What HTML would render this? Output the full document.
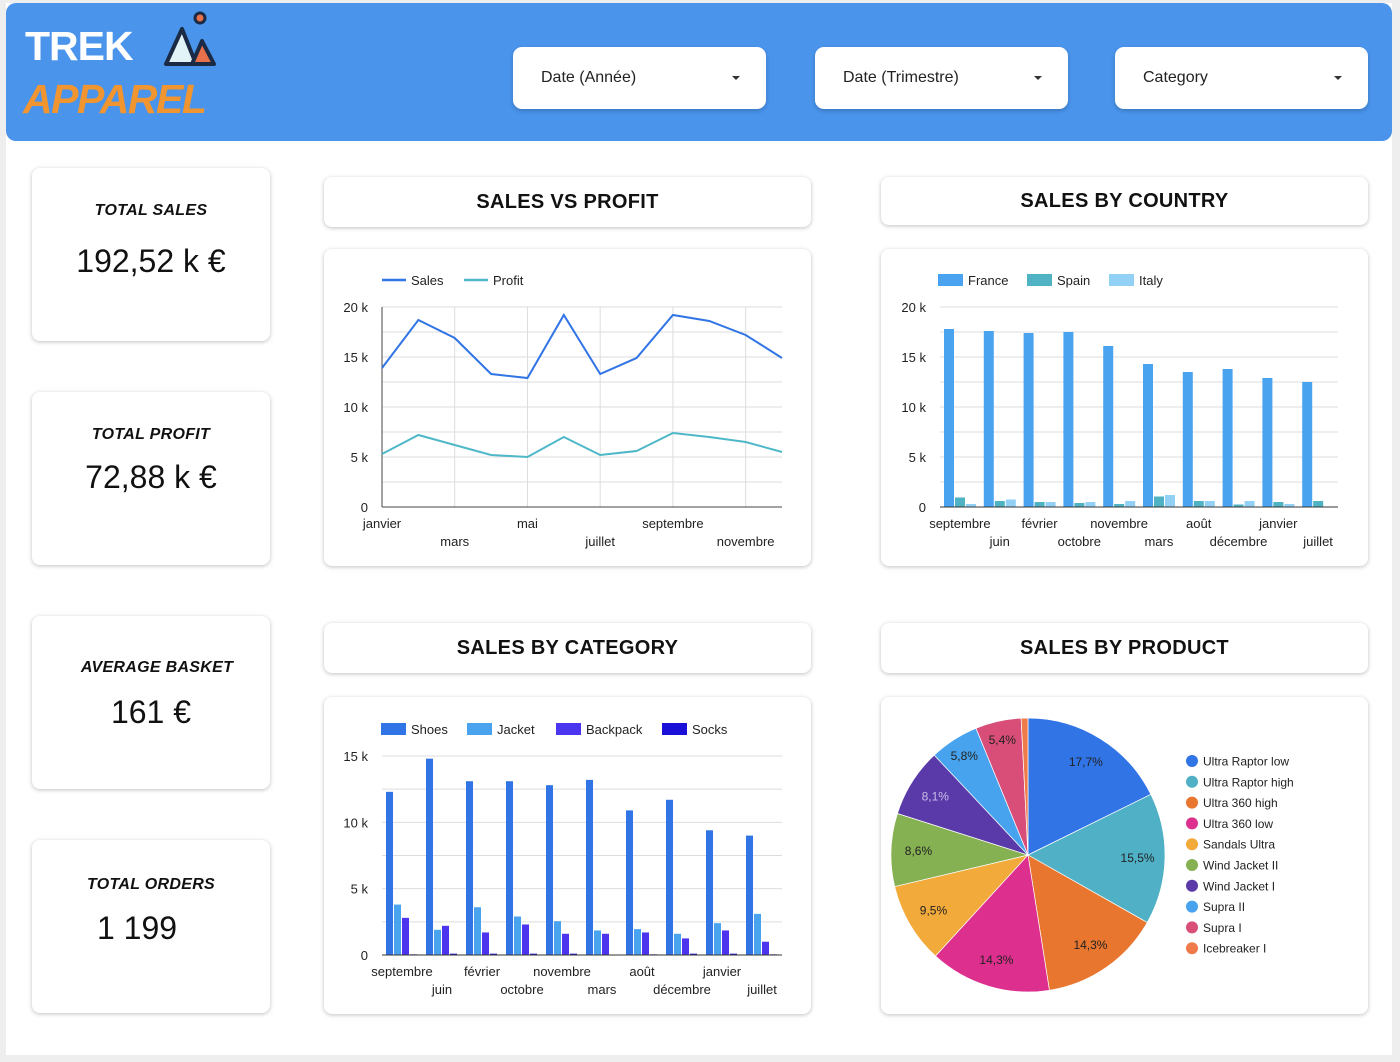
<!DOCTYPE html>
<html><head><meta charset="utf-8">
<style>
body{margin:0;width:1400px;height:1062px;background:#eeeeee;font-family:"Liberation Sans",sans-serif;position:relative;overflow:hidden}
#page{position:absolute;left:6px;top:3px;width:1386px;height:1052px;background:#fff}
#header{position:absolute;left:6px;top:3px;width:1386px;height:138px;background:#4a94ec;border-radius:10px}
.logo1{position:absolute;left:19px;top:20px;font-size:41px;font-weight:bold;color:#fff;letter-spacing:-1px}
.logo2{position:absolute;left:17px;top:73px;font-size:41px;font-weight:bold;font-style:italic;color:#f0952f;letter-spacing:-1.5px}
.dd{position:absolute;top:44px;width:253px;height:62px;background:#fff;border-radius:9px;box-shadow:0 2px 4px rgba(0,0,0,.2);font-size:16px;color:#222}
.dd span{position:absolute;left:28px;top:22px}
.dd i{position:absolute;right:26px;top:29px;border-left:4px solid transparent;border-right:4px solid transparent;border-top:4px solid #333}
.card{position:absolute;background:#fff;border-radius:8px;box-shadow:0 1px 4px rgba(0,0,0,.25)}
.kt{position:absolute;width:100%;text-align:center;font-size:16px;font-style:italic;font-weight:bold;color:#111;letter-spacing:.3px}
.kv{position:absolute;width:100%;text-align:center;font-size:32px;color:#111}
.title{font-size:20px;font-weight:bold;text-align:center;line-height:50px;color:#111;letter-spacing:.3px}
#charts{position:absolute;left:0;top:0}
</style></head><body>
<div id="page"></div>
<div id="header">
 <div class="logo1">TREK</div>
 <div class="logo2">APPAREL</div>
 <svg style="position:absolute;left:152px;top:6px" width="62" height="58">
  <circle cx="42" cy="9" r="5" fill="#e8704a" stroke="#1b2b45" stroke-width="3"/>
  <polygon points="24,20 8,55 38,55" fill="#e3f4f8" stroke="#1b2b45" stroke-width="4" stroke-linejoin="round"/>
  <polygon points="44,32 34,55 56,55" fill="#e8704a" stroke="#1b2b45" stroke-width="4" stroke-linejoin="round"/>
 </svg>
 <div class="dd" style="left:507px"><span>Date (Année)</span><i></i></div>
 <div class="dd" style="left:809px"><span>Date (Trimestre)</span><i></i></div>
 <div class="dd" style="left:1109px"><span>Category</span><i></i></div>
</div>

<div class="card" style="left:32px;top:168px;width:238px;height:173px"><div class="kt" style="top:34px">TOTAL SALES</div><div class="kv" style="top:75px">192,52 k €</div></div>
<div class="card" style="left:32px;top:392px;width:238px;height:173px"><div class="kt" style="top:34px">TOTAL PROFIT</div><div class="kv" style="top:67px">72,88 k €</div></div>
<div class="card" style="left:32px;top:616px;width:238px;height:173px"><div class="kt" style="top:43px;left:6px">AVERAGE BASKET</div><div class="kv" style="top:78px">161 €</div></div>
<div class="card" style="left:32px;top:840px;width:238px;height:173px"><div class="kt" style="top:36px">TOTAL ORDERS</div><div class="kv" style="top:70px;left:-14px">1 199</div></div>

<div class="card title" style="left:324px;top:177px;width:487px;height:50px">SALES VS PROFIT</div>
<div class="card title" style="left:881px;top:177px;width:487px;height:48px;line-height:48px">SALES BY COUNTRY</div>
<div class="card title" style="left:324px;top:623px;width:487px;height:50px">SALES BY CATEGORY</div>
<div class="card title" style="left:881px;top:623px;width:487px;height:50px">SALES BY PRODUCT</div>

<div class="card" style="left:324px;top:249px;width:487px;height:317px"></div>
<div class="card" style="left:881px;top:249px;width:487px;height:317px"></div>
<div class="card" style="left:324px;top:697px;width:487px;height:317px"></div>
<div class="card" style="left:881px;top:697px;width:487px;height:317px"></div>

<svg id="charts" width="1400" height="1062" font-family="Liberation Sans, sans-serif"></svg>

<script>
// Line chart data
const months = ["janvier","février","mars","avril","mai","juin","juillet","août","septembre","octobre","novembre","décembre"];
const salesLine = [13.9,18.7,16.9,13.3,12.9,19.2,13.3,14.9,19.2,18.6,17.2,14.9];
const profitLine = [5.3,7.2,6.2,5.2,5.0,7.0,5.2,5.6,7.4,7.0,6.5,5.5];
const lineTicks = [0,5,10,15,20];
// Country chart data
const countryCats = ["septembre","juin","février","octobre","novembre","mars","août","décembre","janvier","juillet"];
const franceVals = [17.8,17.6,17.4,17.5,16.1,14.3,13.5,13.8,12.9,12.5];
const spainVals = [0.95,0.6,0.5,0.4,0.3,1.05,0.6,0.25,0.5,0.6];
const italyVals = [0.3,0.75,0.5,0.5,0.6,1.2,0.6,0.6,0.3,0];
const countryTicks = [0,5,10,15,20];
// Category chart data
const catCats = ["septembre","juin","février","octobre","novembre","mars","août","décembre","janvier","juillet"];
const shoesVals = [12.3,14.8,13.1,13.1,12.8,13.2,10.9,11.7,9.4,9.0];
const jacketVals = [3.8,1.9,3.6,2.9,2.55,1.85,1.95,1.6,2.4,3.1];
const backpackVals = [2.8,2.2,1.7,2.3,1.6,1.6,1.7,1.25,1.85,1.0];
const socksVals = [0.05,0.1,0.1,0.1,0.1,0.02,0.05,0.1,0.1,0.05];
const catTicks = [0,5,10,15];
// Pie data
const products = ["Ultra Raptor low","Ultra Raptor high","Ultra 360 high","Ultra 360 low","Sandals Ultra","Wind Jacket II","Wind Jacket I","Supra II","Supra I","Icebreaker I"];
const productShares = [17.7,15.5,14.3,14.3,9.5,8.6,8.1,5.8,5.4,0.8];
const pieColors = ["#3174e6","#4fb0c6","#e8762f","#dc2f8e","#f2aa3b","#86b152","#5a3aa8","#47a3ee","#d94e78","#ef7b4b"];

const svg = document.getElementById('charts');
const NS = "http://www.w3.org/2000/svg";
function mk(tag, attrs, parent){const e=document.createElementNS(NS,tag);for(const k in attrs)e.setAttribute(k,attrs[k]);(parent||svg).appendChild(e);return e;}
function txt(x,y,s,size,anchor,fill,parent){const t=mk('text',{x:x,y:y,'font-size':size,'text-anchor':anchor||'start',fill:fill||'#222'},parent);t.textContent=s;return t;}

// ---------- Line chart ----------
(function(){
 const x0=382,x1=782,y0=507,y1=307,max=20;
 const xs=i=>x0+i*(x1-x0)/(months.length-1);
 const ys=v=>y0-(v/max)*(y0-y1);
 const g=mk('g',{});
 
 
 for(let v=2.5;v<=20;v+=2.5){mk('line',{x1:x0,x2:x1,y1:ys(v),y2:ys(v),stroke:'#ddd','stroke-width':1},g);}
 for(let i=2;i<months.length;i+=2){mk('line',{x1:xs(i),x2:xs(i),y1:y1,y2:y0,stroke:'#ddd','stroke-width':1},g);}
 mk('line',{x1:x0,x2:x0,y1:y1,y2:y0,stroke:'#444','stroke-width':1},g);
 mk('line',{x1:x0,x2:x1,y1:y0,y2:y0,stroke:'#444','stroke-width':1},g);
 lineTicks.forEach(v=>{const t=txt(368,ys(v)+5,v===0?'0':v+' k',13,'end','#222',g);});
 [0,4,8].forEach(i=>txt(xs(i),528,months[i],13,'middle','#222',g));
 [2,6,10].forEach(i=>txt(xs(i),546,months[i],13,'middle','#222',g));
 const sp=mk('polyline',{points:salesLine.map((v,i)=>xs(i)+','+ys(v)).join(' '),fill:'none',stroke:'#3174e6','stroke-width':2},g);
 
 const pp=mk('polyline',{points:profitLine.map((v,i)=>xs(i)+','+ys(v)).join(' '),fill:'none',stroke:'#4fb8c8','stroke-width':2},g);
 
 mk('line',{x1:382,x2:406,y1:280,y2:280,stroke:'#3174e6','stroke-width':2.5},g);txt(411,285,'Sales',13,'start','#222',g);
 mk('line',{x1:464,x2:488,y1:280,y2:280,stroke:'#4fb8c8','stroke-width':2.5},g);txt(493,285,'Profit',13,'start','#222',g);
})();

// ---------- Grouped bar helper ----------
function bars(opts){
 const {x0,x1,y0,y1,max,cats,series,colors,ticks,name,bw,gap}=opts;
 const g=mk('g',{});
 
 
 const ys=v=>y0-(v/max)*(y0-y1);
 for(let v=2.5;v<=max;v+=2.5){mk('line',{x1:x0,x2:x1,y1:ys(v),y2:ys(v),stroke:'#ddd','stroke-width':1},g);}
 ticks.forEach(v=>txt(x0-14,ys(v)+5,v===0?'0':v+' k',13,'end','#222',g));
 const gw=(x1-x0)/cats.length;
 cats.forEach((c,i)=>{
  const gx=x0+i*gw+4;
  series.forEach((s,k)=>{
   const v=s[i];const h=(v/max)*(y0-y1);
   const r=mk('rect',{x:gx+k*(bw+gap),y:y0-h,width:bw,height:h,fill:colors[k]},g);
   
   
  });
  txt(x0+i*gw+gw/2, i%2===0?528+opts.dy:546+opts.dy, c,13,'middle','#222',g);
 });
 mk('line',{x1:x0,x2:x1,y1:y0,y2:y0,stroke:'#333','stroke-width':1},g);
 return g;
}
bars({x0:940,x1:1338,y0:507,y1:307,max:20,cats:countryCats,series:[franceVals,spainVals,italyVals],colors:['#4aa3ee','#4fb3c4','#93d0f5'],ticks:countryTicks,name:'sales-by-country-chart',bw:10,gap:1,dy:0});
bars({x0:382,x1:782,y0:955,y1:756,max:15,cats:catCats,series:[shoesVals,jacketVals,backpackVals,socksVals],colors:['#3174e6','#4aa3ee','#4b35ef','#1a10d8'],ticks:catTicks,name:'sales-by-category-chart',bw:7,gap:1,dy:448});

// legends
[['France','#4aa3ee',938],['Spain','#4fb3c4',1027],['Italy','#93d0f5',1109]].forEach(([n,c,x])=>{
 const r=mk('rect',{x:x,y:274,width:25,height:12,fill:c});
 txt(x+30,285,n,13);
});
[['Shoes','#3174e6',381],['Jacket','#4aa3ee',467],['Backpack','#4b35ef',556],['Socks','#1a10d8',662]].forEach(([n,c,x])=>{
 const r=mk('rect',{x:x,y:723,width:25,height:12,fill:c});
 txt(x+30,734,n,13);
});

// ---------- Pie ----------
(function(){
 const cx=1028,cy=855,R=137;
 const g=mk('g',{});
 
 
 const total=productShares.reduce((a,b)=>a+b,0);
 let a=-Math.PI/2;
 productShares.forEach((v,i)=>{
  const da=v/total*2*Math.PI,b=a+da;
  const p=`M${cx},${cy} L${cx+R*Math.cos(a)},${cy+R*Math.sin(a)} A${R},${R} 0 ${da>Math.PI?1:0} 1 ${cx+R*Math.cos(b)},${cy+R*Math.sin(b)} Z`;
  const s=mk('path',{d:p,fill:pieColors[i],stroke:'#fff','stroke-width':0.7},g);
  
  
  if(v>=5){const m=(a+b)/2,lr=R*(v<7?0.86:0.8);
   txt(cx+lr*Math.cos(m),cy+lr*Math.sin(m)+4,v.toFixed(1).replace('.',',')+'%',12,'middle',i===6?'#c9bde8':'#222',g);}
  a=b;
 });
 products.forEach((n,i)=>{
  const y=761+i*20.8;
  const c=mk('circle',{cx:1192,cy:y,r:6,fill:pieColors[i]},g);
  
  
  txt(1203,y+4.5,n,12,'start','#222',g);
 });
})();
</script>
</body></html>
